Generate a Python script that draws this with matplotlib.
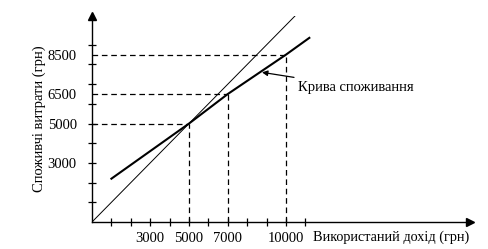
import matplotlib.pyplot as plt

# Функція споживання: споживчі витрати vs використаний дохід
income = [1000, 3000, 5000, 7000, 10000, 11200]
consumption = [2200, 3600, 5000, 6500, 8500, 9350]

# 45-градусна лінія
diag_x = [0, 10550]
diag_y = [0, 10550]

# точки з пунктирними проекціями
marks_x = [5000, 7000, 10000]
marks_y = [5000, 6500, 8500]

xtick_labels = ['3000', '5000', '7000', '10000']
ytick_labels = ['3000', '5000', '6500', '8500']

plt.rcParams['font.family'] = ['Liberation Serif', 'DejaVu Serif']

W, H = 489, 249
fig = plt.figure(figsize=(W / 100, H / 100), dpi=100)
ax = fig.add_axes([92 / W, (H - 222) / H, (470 - 92) / W, (222 - 16) / H])
ax.set_xlim(0, 19480)
ax.set_ylim(0, 10460)

for s in ['top', 'right']:
    ax.spines[s].set_visible(False)
for s in ['left', 'bottom']:
    ax.spines[s].set_linewidth(1.0)

# стрілки осей
ax.plot(1, 0, '>k', ms=6, transform=ax.get_yaxis_transform(), clip_on=False)
ax.plot(0, 1, '^k', ms=6, transform=ax.get_xaxis_transform(), clip_on=False)

ax.plot(diag_x, diag_y, color='k', lw=0.7)
ax.plot(income, consumption, color='k', lw=1.5)

dash = (0, (4.5, 3))
for mx, my in zip(marks_x, marks_y):
    ax.plot([0, mx], [my, my], color='k', lw=0.9, linestyle=dash)
    ax.plot([mx, mx], [0, my], color='k', lw=0.9, linestyle=dash)

# тики
xt = list(range(1000, 12000, 1000))
ax.set_xticks(xt)
ax.set_xticklabels([str(v) if str(v) in xtick_labels else '' for v in xt])
yt = list(range(1000, 10000, 1000))
ax.set_yticks(yt)
ax.set_yticklabels([str(v) if str(v) in ytick_labels else '' for v in yt])
ax.set_yticks([6500, 8500], minor=True)
ax.set_yticklabels(['6500', '8500'], minor=True)
ax.tick_params(axis='both', which='major', direction='inout', length=6,
               width=0.9, labelsize=10.5)
ax.tick_params(axis='y', which='major', pad=8)
ax.tick_params(axis='y', which='minor', length=0, labelsize=10.5, pad=11)
ax.tick_params(axis='x', pad=4)

ax.text(-0.14, 0.5, 'Споживчі витрати (грн)', rotation=90, transform=ax.transAxes,
        ha='center', va='center', fontsize=10.5)
ax.text(0.585, -0.04, 'Використаний дохід (грн)', transform=ax.transAxes,
        ha='left', va='top', fontsize=10.3)

ax.annotate('Крива споживання', xy=(8760, 7600), xytext=(10600, 6850),
            fontsize=10.5, va='center', ha='left',
            arrowprops=dict(arrowstyle='-|>', color='k', lw=0.9,
                            shrinkA=2, shrinkB=0, mutation_scale=8))

fig.savefig('out.png', dpi=100)
